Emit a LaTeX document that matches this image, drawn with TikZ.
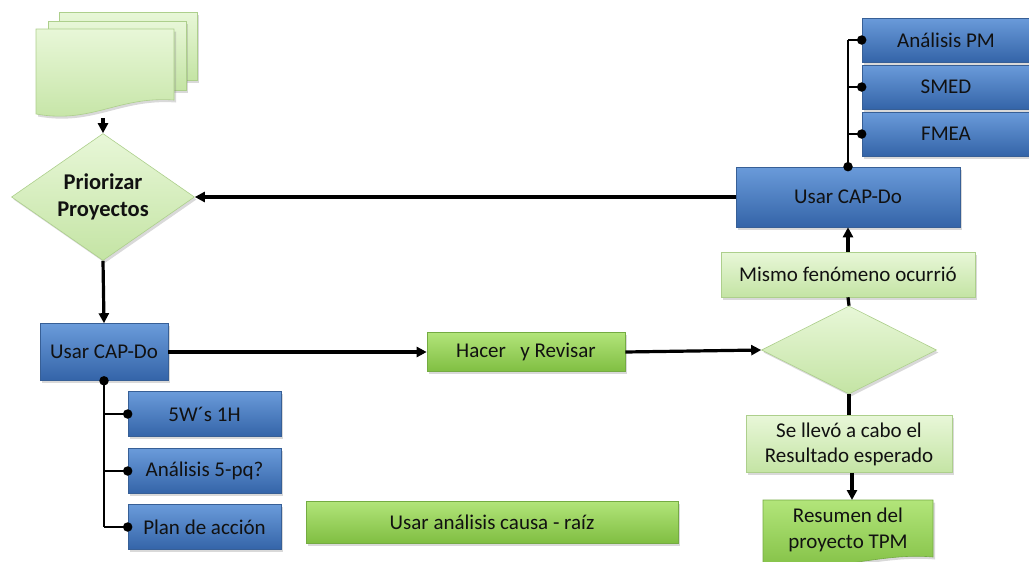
\documentclass[tikz,border=0pt]{standalone}
\usepackage{fontspec}
\setmainfont{Carlito}
\usetikzlibrary{shapes.geometric,arrows.meta,shadows}
\definecolor{bluetop}{HTML}{6A9BDA}
\definecolor{bluemid}{HTML}{4679C0}
\definecolor{bluebot}{HTML}{3464A8}
\definecolor{blueedge}{HTML}{375F96}
\definecolor{lgtop}{HTML}{E8F7D8}
\definecolor{lgmid}{HTML}{D6F0BA}
\definecolor{lgbot}{HTML}{C4E4A4}
\definecolor{lgedge}{HTML}{ADCF8C}
\definecolor{gtop}{HTML}{B2E57A}
\definecolor{gmid}{HTML}{96D257}
\definecolor{gbot}{HTML}{80BE42}
\definecolor{gedge}{HTML}{74AB42}
\definecolor{ink}{HTML}{111111}
\tikzset{
  x=1pt, y=-1pt,
  shade/.style={drop shadow={opacity=0.3, shadow xshift=2pt, shadow yshift=-2.5pt}},
  txt/.style={text=ink, font=\fontsize{21}{25}\selectfont, align=center},
  bluebox/.style={rectangle, shade, draw=blueedge, line width=0.6pt,
    top color=bluetop, middle color=bluemid, bottom color=bluebot,
    inner sep=0pt, txt},
  lgbox/.style={rectangle, shade, draw=lgedge, line width=0.6pt,
    top color=lgtop, middle color=lgmid, bottom color=lgbot,
    inner sep=0pt, txt},
  gbox/.style={rectangle, shade, draw=gedge, line width=0.6pt,
    top color=gtop, middle color=gmid, bottom color=gbot,
    inner sep=0pt, txt},
  lgfill/.style={shade, draw=lgedge, line width=0.6pt,
    top color=lgtop, middle color=lgmid, bottom color=lgbot},
  decide/.style={diamond, lgfill, inner sep=0pt},
  arr/.style={line width=3.2pt, -{Triangle[length=10pt,width=10pt]}},
  link/.style={line width=3.2pt},
  branch/.style={line width=1.3pt},
  trunk/.style={line width=2pt},
  dot/.style={circle, fill=black, inner sep=0pt, minimum size=9.5pt},
}
\begin{document}
\begin{tikzpicture}
\useasboundingbox (0,0) rectangle (1029,562);

% stacked documents
\path[lgfill] (59,12) rectangle (197,80);
\path[lgfill] (48,21) rectangle (186,90);
\path[lgfill] (36,29) -- (174,29) -- (174,100)
  .. controls (118,96) and (92,124) .. (36,114) -- cycle;
\coordinate (docb) at (103,118);

% left column
\node[decide, minimum width=183pt, minimum height=127pt] (p1) at (103,197) {};
\node[font=\bfseries\fontsize{22.5}{27}\selectfont, text=ink, align=center] (p1t) at (p1.center) {Priorizar\\Proyectos};

\node[bluebox, minimum width=128pt, minimum height=57pt] (cap1) at (104,352) {Usar CAP-Do};
\node[bluebox, minimum width=153pt, minimum height=45pt] (w1) at (204.5,414) {5W´s 1H};
\node[bluebox, minimum width=153pt, minimum height=45pt] (w2) at (204.5,471) {Análisis 5-pq?};
\node[bluebox, minimum width=153pt, minimum height=45pt] (w3) at (204.5,527) {Plan de acción};

% middle
\node[gbox, minimum width=198pt, minimum height=39pt] (hacer) at (526,352) {Hacer \ \ y Revisar};
\node[gbox, minimum width=372pt, minimum height=42pt] (rca) at (492,522) {Usar análisis causa - raíz};

% right column
\node[bluebox, minimum width=224pt, minimum height=60pt] (cap2) at (848,197) {Usar CAP-Do};
\node[bluebox, minimum width=168pt, minimum height=44pt] (t1) at (946,40) {Análisis PM};
\node[bluebox, minimum width=168pt, minimum height=44pt] (t2) at (946,87) {SMED};
\node[bluebox, minimum width=168pt, minimum height=44pt] (t3) at (946,134) {FMEA};

\node[lgbox, minimum width=254pt, minimum height=45pt] (mismo) at (848,274.5) {Mismo fenómeno ocurrió};
\node[decide, minimum width=175pt, minimum height=88pt] (d2) at (849,350) {};
\node[lgbox, minimum width=206pt, minimum height=57pt] (sell) at (849,444) {Se llevó a cabo el\\Resultado esperado};

% summary document
\path[shade, draw=gedge, line width=0.6pt, top color=gtop, middle color=gmid, bottom color=gbot]
  (763,500) -- (933,500) -- (933,557)
  .. controls (880,552) and (830,574) .. (763,566) -- cycle;
\node[txt, font=\fontsize{21}{26}\selectfont] (res) at (848,530) {Resumen del\\proyecto TPM};
\coordinate (resn) at (852,500);

% main flow
\draw[arr] (docb) -- (p1.north);
\draw[arr] (cap2.west) -- (p1.east);
\draw[arr] (p1.south) -- (cap1.north);
\draw[arr] (cap1.east) -- (hacer.west);
\draw[arr] (hacer.east) -- (d2.west);
\draw[link] (d2.north) -- (mismo.south);
\draw[arr] (mismo.north) -- (cap2.south);
\draw[link] (d2.south) -- (sell.north);
\draw[arr] (sell.south -| resn) -- (resn);

% left tool branches
\draw[trunk] (cap1.south) -- (cap1.south |- w3.west);
\foreach \b in {w1,w2,w3}{
  \draw[branch] (cap1.south |- \b.west) -- (\b.west);
  \node[dot] at (\b.west) {};
}
\node[dot] (c1s) at (cap1.south) {};

% right tool branches
\draw[trunk] (cap2.north) -- (cap2.north |- t1.west);
\foreach \b in {t1,t2,t3}{
  \draw[branch] (cap2.north |- \b.west) -- (\b.west);
  \node[dot] at (\b.west) {};
}
\node[dot] (c2n) at (cap2.north) {};
\end{tikzpicture}
\end{document}
